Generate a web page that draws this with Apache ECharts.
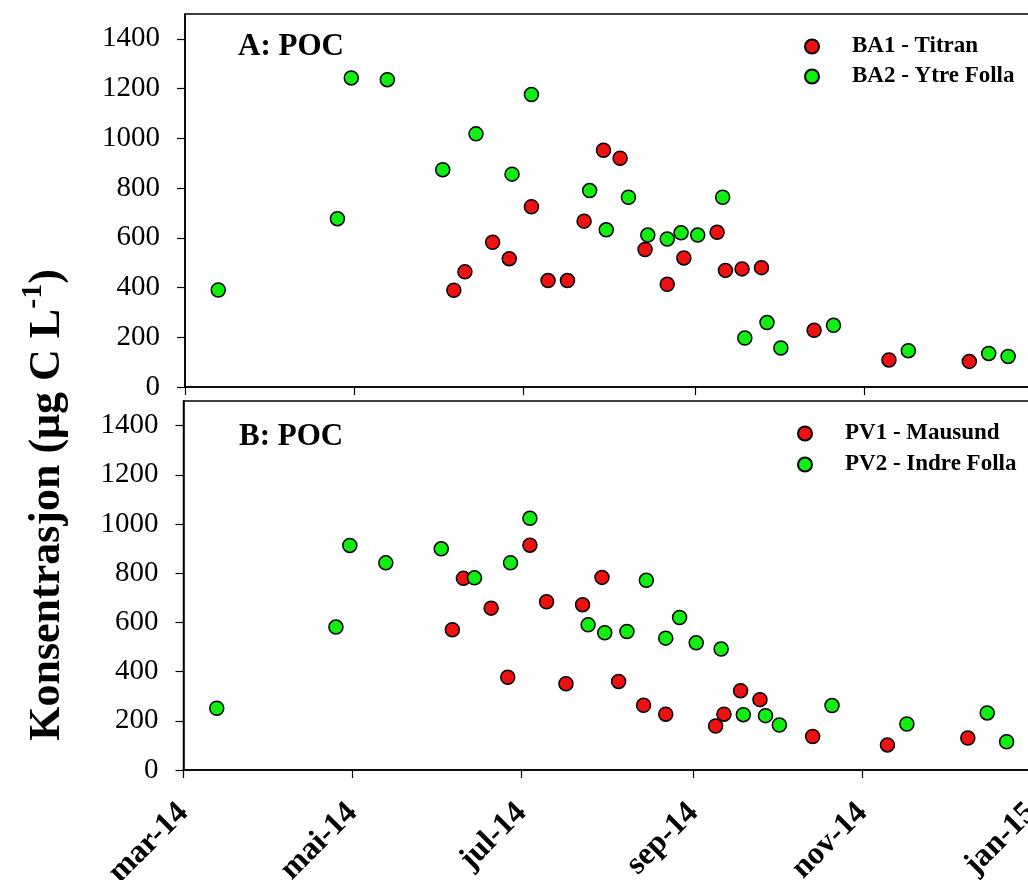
<!DOCTYPE html>
<html>
<head>
<meta charset="utf-8">
<title>POC</title>
<script src="https://cdn.jsdelivr.net/npm/echarts@6/dist/echarts.min.js"></script>
<style>
  html, body { margin: 0; padding: 0; background: #fff; }
  #chart { width: 1028px; height: 880px; }
</style>
</head>
<body>
<div id="chart"></div>
<script>
// Month ticks on the shared date axis
const tickDates = ['2014-03-01', '2014-05-01', '2014-07-01', '2014-09-01', '2014-11-01', '2015-01-01'];
const tickLabels = ['mar-14', 'mai-14', 'jul-14', 'sep-14', 'nov-14', 'jan-15'];
const yTicks = [0, 200, 400, 600, 800, 1000, 1200, 1400];

// Sampling dates
const datesRed = ['2014-06-06', '2014-06-10', '2014-06-20', '2014-06-26', '2014-07-04', '2014-07-10',
  '2014-07-17', '2014-07-23', '2014-07-30', '2014-08-05', '2014-08-14', '2014-08-22', '2014-08-28',
  '2014-09-09', '2014-09-12', '2014-09-18', '2014-09-25', '2014-10-14', '2014-11-10', '2014-12-09'];
const datesRedB = ['2014-06-06', '2014-06-10', '2014-06-20', '2014-06-26', '2014-07-04', '2014-07-10',
  '2014-07-17', '2014-07-23', '2014-07-30', '2014-08-05', '2014-08-14', '2014-08-22',
  '2014-09-09', '2014-09-12', '2014-09-18', '2014-09-25', '2014-10-14', '2014-11-10', '2014-12-09'];
const datesGreen = ['2014-03-13', '2014-04-25', '2014-04-30', '2014-05-13', '2014-06-02', '2014-06-14',
  '2014-06-27', '2014-07-04', '2014-07-25', '2014-07-31', '2014-08-08', '2014-08-15', '2014-08-22',
  '2014-08-27', '2014-09-02', '2014-09-11', '2014-09-19', '2014-09-27', '2014-10-02', '2014-10-21',
  '2014-11-17', '2014-12-16', '2014-12-23'];

// POC concentrations (µg C/L)
const ba1Titran = [389, 463, 582, 516, 725, 428, 428, 667, 952, 920, 553, 413, 519, 622, 469, 475, 480, 228, 109, 103];
const ba2YtreFolla = [390, 677, 1243, 1236, 874, 1018, 856, 1176, 790, 632, 763, 611, 595, 620, 611, 763, 197, 259, 157, 248, 146, 135, 123];
const pv1Mausund = [570, 779, 658, 377, 914, 684, 351, 672, 783, 360, 263, 227, 179, 227, 322, 286, 136, 102, 130];
const pv2IndreFolla = [251, 581, 913, 842, 899, 781, 842, 1023, 590, 558, 563, 771, 536, 620, 517, 492, 225, 221, 183, 262, 187, 232, 115];

const ts = s => Date.parse(s + 'T00:00:00Z');
const tickTs = tickDates.map(ts);
const pairs = (dates, vals) => dates.map((d, i) => [ts(d), vals[i]]);

const SERIF = '"Liberation Serif", "Times New Roman", serif';
const RED = '#ee1111';
const GREEN = '#11ee11';

function xAxis(gridIndex, showLabels) {
  return {
    type: 'value', gridIndex,
    min: ts('2014-03-01'), max: ts('2015-01-10'),
    axisLine: { show: true, lineStyle: { color: '#000', width: 1.5 } },
    axisTick: { show: true, customValues: tickTs, length: 8, lineStyle: { color: '#000', width: 1.2 } },
    axisLabel: {
      show: showLabels, customValues: tickTs, rotate: 45, margin: 38,
      formatter: v => tickLabels[tickTs.indexOf(v)] || '',
      fontFamily: SERIF, fontSize: 32, fontWeight: 'bold', color: '#000'
    },
    splitLine: { show: false }
  };
}

function yAxis(gridIndex) {
  return {
    type: 'value', gridIndex, min: 0, max: 1500,
    axisLine: { show: true, lineStyle: { color: '#000', width: 1.5 } },
    axisTick: { show: true, customValues: yTicks, length: 8, lineStyle: { color: '#000', width: 1.2 } },
    axisLabel: {
      customValues: yTicks, margin: 25, formatter: v => String(v),
      fontFamily: SERIF, fontSize: 29, color: '#000'
    },
    splitLine: { show: false }
  };
}

function scatter(name, data, color, idx) {
  return {
    name, type: 'scatter', xAxisIndex: idx, yAxisIndex: idx, data,
    symbol: 'circle', symbolSize: 14,
    itemStyle: { color, borderColor: '#000', borderWidth: 1.5, opacity: 1 },
    emphasis: { disabled: true }
  };
}

const legendText = { fontFamily: SERIF, fontSize: 23, fontWeight: 'bold', color: '#000', padding: [0, 0, 0, 28], lineHeight: 20 };

const chart = echarts.init(document.getElementById('chart'), null, { renderer: 'canvas' });
chart.setOption({
  backgroundColor: '#fff',
  animation: false,
  grid: [
    { left: 185, top: 14, width: 873, height: 373, outerBoundsMode: 'none', containLabel: false,
      show: true, borderColor: '#000', borderWidth: 1.5, backgroundColor: 'transparent' },
    { left: 183.5, top: 401, width: 873, height: 369, outerBoundsMode: 'none', containLabel: false,
      show: true, borderColor: '#000', borderWidth: 1.5, backgroundColor: 'transparent' }
  ],
  xAxis: [xAxis(0, false), xAxis(1, true)],
  yAxis: [yAxis(0), yAxis(1)],
  legend: [
    { orient: 'vertical', left: 804, top: 35, padding: 0, itemGap: 7, itemWidth: 14, itemHeight: 14,
      icon: 'circle', textStyle: legendText, data: ['BA1 - Titran', 'BA2 - Ytre Folla'], selectedMode: false },
    { orient: 'vertical', left: 797, top: 422, padding: 0, itemGap: 8, itemWidth: 14, itemHeight: 14,
      icon: 'circle', textStyle: legendText, data: ['PV1 - Mausund', 'PV2 - Indre Folla'], selectedMode: false }
  ],
  series: [
    scatter('BA1 - Titran', pairs(datesRed, ba1Titran), RED, 0),
    scatter('BA2 - Ytre Folla', pairs(datesGreen, ba2YtreFolla), GREEN, 0),
    scatter('PV1 - Mausund', pairs(datesRedB, pv1Mausund), RED, 1),
    scatter('PV2 - Indre Folla', pairs(datesGreen, pv2IndreFolla), GREEN, 1)
  ],
  graphic: [
    { type: 'text', left: 238, top: 31, style: { text: 'A: POC', fontFamily: SERIF, fontSize: 31, fontWeight: 'bold', fill: '#000' } },
    { type: 'text', left: 239, top: 421, style: { text: 'B: POC', fontFamily: SERIF, fontSize: 31, fontWeight: 'bold', fill: '#000' } },
    {
      type: 'text', x: 44, y: 505, rotation: Math.PI / 2,
      style: {
        text: '{t|Konsentrasjon (μg C L}{s|-1}{t|)}',
        align: 'center', verticalAlign: 'middle',
        rich: {
          t: { fontFamily: SERIF, fontSize: 44, fontWeight: 'bold', fill: '#000', lineHeight: 52, verticalAlign: 'bottom' },
          s: { fontFamily: SERIF, fontSize: 30, fontWeight: 'bold', fill: '#000', lineHeight: 30, verticalAlign: 'top' }
        }
      }
    }
  ]
});
</script>
</body>
</html>
